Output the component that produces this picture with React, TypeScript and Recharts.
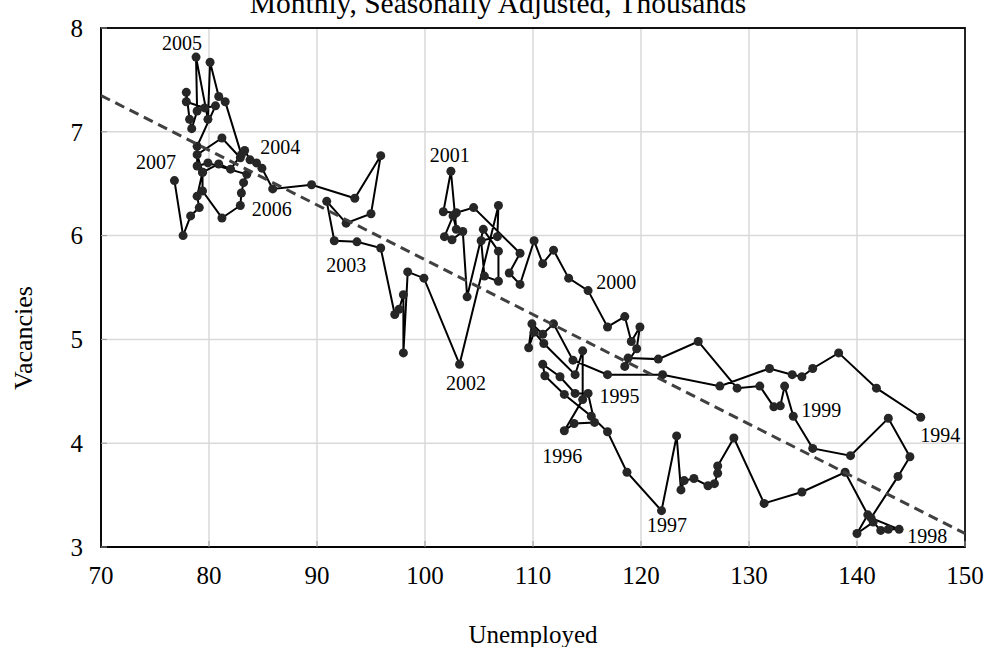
import React from 'react';
import { ScatterChart, Scatter, XAxis, YAxis, CartesianGrid, ReferenceArea } from 'recharts';

// Monthly path of unemployed vs vacancies (thousands), 1994 -> 2007
const unemployed = [
  145.9, 141.8, 138.3, 135.9, 134.9, 134.0, 131.9, 127.3, 122.0,
  116.9, 113.7, 111.9, 110.9, 109.9, 109.6, 110.1, 111.0, 113.9, 114.6, 114.6,
  112.9, 113.8, 115.7, 115.1, 113.9, 112.5, 110.9, 111.1, 112.9, 115.4, 116.9, 118.7,
  121.9, 123.3, 123.7, 124.0, 124.9, 126.2, 126.8, 127.1, 127.1, 128.6, 131.4, 134.9, 138.9,
  141.0, 140.0, 141.5, 142.2, 142.9, 143.9, 141.3, 143.8, 144.9, 142.9, 139.4, 135.9,
  134.1, 133.3, 132.9, 132.3, 131.0, 128.9, 125.3, 121.6, 118.8, 118.5, 119.6, 119.9, 119.1, 118.5, 116.9,
  115.1, 113.3, 111.9, 110.9, 110.1, 108.8, 107.8, 108.8, 104.5, 102.9, 101.7,
  102.4, 102.9, 102.6, 101.8, 102.5, 103.5, 103.9, 105.4, 106.8, 106.8, 105.5, 105.2, 106.7, 106.8,
  103.2, 99.9, 98.4, 98.0, 98.0, 97.6, 97.2, 95.9, 93.7,
  91.6, 90.9, 92.7, 95.0, 95.9, 93.5, 89.5, 85.9, 84.9, 84.4, 83.8,
  83.3, 82.9, 81.2, 78.9, 79.4, 80.9, 82.0, 83.0, 81.5, 80.9, 80.1, 79.9,
  78.8, 78.9, 78.4, 78.2, 77.9, 77.9, 79.6, 80.6, 78.9, 78.9, 79.9, 83.5, 83.2, 83.0,
  82.9, 81.2, 79.4, 79.4, 78.9, 79.1, 78.3, 77.6,
  76.8,
];
const vacancies = [
  4.25, 4.53, 4.87, 4.72, 4.64, 4.66, 4.72, 4.55, 4.66,
  4.66, 4.80, 5.15, 5.05, 5.15, 4.92, 5.07, 4.96, 4.66, 4.89, 4.42,
  4.12, 4.19, 4.20, 4.48, 4.48, 4.64, 4.76, 4.65, 4.47, 4.26, 4.11, 3.72,
  3.35, 4.07, 3.55, 3.64, 3.66, 3.59, 3.61, 3.71, 3.78, 4.05, 3.42, 3.53, 3.72,
  3.31, 3.13, 3.24, 3.16, 3.17, 3.17, 3.28, 3.68, 3.87, 4.24, 3.88, 3.95,
  4.26, 4.55, 4.36, 4.35, 4.55, 4.53, 4.98, 4.81, 4.82, 4.74, 4.91, 5.12, 4.98, 5.22, 5.12,
  5.47, 5.59, 5.86, 5.73, 5.95, 5.53, 5.64, 5.83, 6.27, 6.22, 6.23,
  6.62, 6.06, 6.19, 5.99, 5.96, 6.04, 5.41, 6.06, 5.85, 5.56, 5.61, 5.95, 5.99, 6.29,
  4.76, 5.59, 5.65, 4.87, 5.43, 5.29, 5.24, 5.88, 5.94,
  5.95, 6.33, 6.12, 6.21, 6.77, 6.36, 6.49, 6.45, 6.65, 6.70, 6.73,
  6.82, 6.75, 6.94, 6.78, 6.61, 6.69, 6.64, 6.78, 7.29, 7.34, 7.67, 7.12,
  7.72, 7.20, 7.03, 7.12, 7.38, 7.29, 7.23, 7.25, 6.86, 6.67, 6.70, 6.59, 6.51, 6.41,
  6.29, 6.17, 6.43, 6.61, 6.38, 6.27, 6.19, 6.00,
  6.53,
];

// Linear trend (dashed)
const trendX = [70, 150];
const trendY = [7.35, 3.13];

// Year annotations (label anchor in data units)
const yearLabels = ['1994', '1995', '1996', '1997', '1998', '1999', '2000', '2001', '2002', '2003', '2004', '2005', '2006', '2007'];
const labelX = [147.7, 118.0, 112.7, 122.4, 146.5, 136.7, 117.7, 102.3, 103.8, 92.7, 86.6, 77.5, 85.8, 75.1];
const labelY = [4.01, 4.39, 3.81, 3.14, 3.04, 4.25, 5.49, 6.71, 4.51, 5.65, 6.79, 7.79, 6.19, 6.64];

const xTicks = [70, 80, 90, 100, 110, 120, 130, 140, 150];
const yTicks = [3, 4, 5, 6, 7, 8];

const title = 'Monthly, Seasonally Adjusted, Thousands';
const xTitle = 'Unemployed';
const yTitle = 'Vacancies';

const FONT = '"Liberation Serif", "Times New Roman", serif';

const points = unemployed.map((x, i) => ({ x, y: vacancies[i] }));
const trend = trendX.map((x, i) => ({ x, y: trendY[i] }));
const labels = yearLabels.map((label, i) => ({ x: labelX[i], y: labelY[i], label }));

const Dot = (props: any) => {
  const { cx, cy } = props;
  if (cx == null || cy == null) return null;
  return <circle cx={cx} cy={cy} r={4.5} fill="#262626" />;
};

const NoShape = () => null;

const LabelShape = (props: any) => {
  const { cx, cy, payload } = props;
  if (cx == null || cy == null) return null;
  return (
    <text x={cx} y={cy} textAnchor="middle" fontSize={20} fontFamily={FONT} fill="#000">
      {payload.label}
    </text>
  );
};

export default function App() {
  return (
    <div style={{ position: 'absolute', left: 0, top: 0, width: 986, height: 647, background: '#fff' }}>
      <ScatterChart width={986} height={647} margin={{ top: 28, right: 21, bottom: 0, left: 0 }}>
        <CartesianGrid stroke="#d9d9d9" strokeWidth={1.5} />
        <XAxis
          type="number"
          dataKey="x"
          domain={[70, 150]}
          ticks={xTicks}
          interval={0}
          allowDataOverflow
          height={100}
          tickSize={-6}
          tickMargin={25}
          tickLine={{ stroke: '#9a9a9a' }}
          axisLine={{ stroke: '#000', strokeWidth: 1.5 }}
          tick={{ fontSize: 25, fill: '#000', fontFamily: FONT }}
        />
        <YAxis
          type="number"
          dataKey="y"
          domain={[3, 8]}
          ticks={yTicks}
          interval={0}
          allowDataOverflow
          width={101}
          tickSize={-6}
          tickMargin={24}
          tickLine={{ stroke: '#9a9a9a' }}
          axisLine={{ stroke: '#000', strokeWidth: 1.5 }}
          tick={{ fontSize: 25, fill: '#000', fontFamily: FONT }}
        />
        <ReferenceArea x1={70} x2={150} y1={3} y2={8} fill="none" stroke="#111" strokeWidth={1.8} ifOverflow="visible" />
        <Scatter
          data={points}
          line={{ stroke: '#000', strokeWidth: 2 }}
          lineType="joint"
          shape={Dot}
          fill="#262626"
          isAnimationActive={false}
        />
        <Scatter
          data={trend}
          line={{ stroke: '#404040', strokeWidth: 3, strokeDasharray: '10 6' }}
          lineType="joint"
          shape={NoShape}
          isAnimationActive={false}
        />
        <Scatter data={labels} shape={LabelShape} isAnimationActive={false} />
      </ScatterChart>
      <svg
        width={986}
        height={647}
        style={{ position: 'absolute', left: 0, top: 0, pointerEvents: 'none' }}
      >
        <text x={498} y={13} textAnchor="middle" fontSize={29.5} fontFamily={FONT} fill="#000">
          {title}
        </text>
        <text x={533} y={643} textAnchor="middle" fontSize={25} fontFamily={FONT} fill="#000">
          {xTitle}
        </text>
        <text
          x={0}
          y={0}
          transform="translate(32, 338) rotate(-90)"
          textAnchor="middle"
          fontSize={26}
          fontFamily={FONT}
          fill="#000"
        >
          {yTitle}
        </text>
      </svg>
    </div>
  );
}
